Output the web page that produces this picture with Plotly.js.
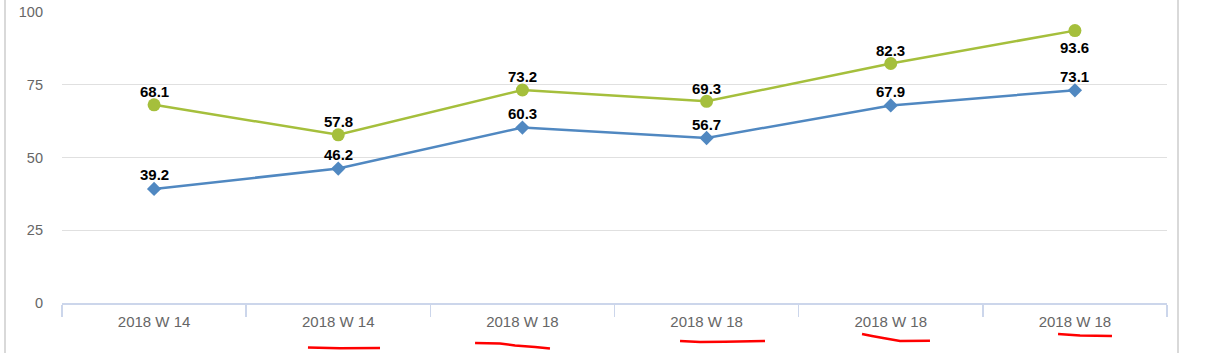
<!DOCTYPE html>
<html><head><meta charset="utf-8">
<script src="https://cdn.plot.ly/plotly-3.0.1.min.js"></script>
<style>html,body{margin:0;padding:0;background:#fff;}#chart{width:1217px;height:353px;}</style>
</head><body><div id="chart"></div>
<script>
const categories = ["2018 W 14", "2018 W 14", "2018 W 18", "2018 W 18", "2018 W 18", "2018 W 18"];
const seriesGreen = [68.1, 57.8, 73.2, 69.3, 82.3, 93.6];
const seriesBlue = [39.2, 46.2, 60.3, 56.7, 67.9, 73.1];
const greenLabelBelow = [false, false, false, false, false, true];
const yTicks = [0, 25, 50, 75, 100];

const W = 1217, H = 353, L = 62, R = 50, T = 12, B = 50;
const pw = W - L - R, ph = H - T - B;
function px(x){ return (x - L) / pw; }
function py(y){ return (H - B - y) / ph; }
function path(pts){
  return pts.map((p,i)=>(i?'L':'M')+px(p[0]).toFixed(4)+','+py(p[1]).toFixed(4)).join(' ');
}
const scribbles = [
  [[308,347.5],[340,348.3],[380,348]],
  [[475,343],[500,343.5],[515,345.5],[535,347],[550,348.5]],
  [[680,341],[700,342],[725,341.8],[765,341]],
  [[862,334],[872,336],[883,338],[900,341],[930,340.7]],
  [[1058,334],[1080,335.5],[1112,336]]
];
const xIdx = categories.map((_, i) => i);
const boundaries = [-0.5, 0.5, 1.5, 2.5, 3.5, 4.5, 5.5];

const traces = [
  {x: xIdx, y: seriesBlue, type:'scatter', mode:'lines+markers',
   line:{color:'#5088c1', width:2.5}, marker:{symbol:'diamond', size:11, color:'#5088c1'}, hoverinfo:'none'},
  {x: xIdx, y: seriesGreen, type:'scatter', mode:'lines+markers',
   line:{color:'#a5bf3c', width:2.5}, marker:{symbol:'circle', size:13, color:'#a5bf3c'}, hoverinfo:'none'}
];

const labelFont = {family:'Liberation Sans, Arial', size:15, color:'#000', weight:'bold'};
const annotations = [];
seriesBlue.forEach((v,i)=>annotations.push({x:i, y:v, xref:'x', yref:'y', text:v.toFixed(1), showarrow:false,
  yshift:14, font:labelFont}));
seriesGreen.forEach((v,i)=>annotations.push({x:i, y:v, xref:'x', yref:'y', text:v.toFixed(1), showarrow:false,
  yshift: greenLabelBelow[i] ? -17 : 13, font:labelFont}));

const shapes = [
  {type:'line', xref:'paper', yref:'paper', x0:px(5), x1:px(5), y0:py(0), y1:py(H), line:{color:'#cccccc', width:1.5}},
  {type:'line', xref:'paper', yref:'paper', x0:px(1178), x1:px(1178), y0:py(0), y1:py(H), line:{color:'#cccccc', width:1.5}}
].concat(scribbles.map(s=>({type:'path', xref:'paper', yref:'paper', path:path(s), line:{color:'#ff0000', width:2.5}})));

const layout = {
  width: W, height: H, margin:{l:L, r:R, t:T, b:B, pad:0},
  paper_bgcolor:'#fff', plot_bgcolor:'#fff', showlegend:false,
  font:{family:'Liberation Sans, Arial', color:'#666666', size:15},
  xaxis:{range:[-0.5, 5.5], tickmode:'array', tickvals:xIdx, ticktext:categories,
    ticks:'', ticklabelstandoff:4, showline:true, linecolor:'#ccd6eb', linewidth:1.5,
    minor:{tickmode:'array', tickvals:boundaries, ticks:'outside', ticklen:12, tickcolor:'#ccd6eb', tickwidth:1.5, showgrid:false},
    showgrid:false, zeroline:false, tickfont:{size:15, color:'#666666'}, fixedrange:true},
  yaxis:{range:[0, 100], tickmode:'array', tickvals:yTicks, showgrid:true, gridcolor:'#e0e0e0', gridwidth:1.2,
    zeroline:false, showline:false, ticks:'', ticklabelstandoff:18, tickfont:{size:14.5, color:'#666666'}, fixedrange:true},
  annotations: annotations,
  shapes: shapes
};
Plotly.newPlot('chart', traces, layout, {displayModeBar:false, staticPlot:true});
</script></body></html>
